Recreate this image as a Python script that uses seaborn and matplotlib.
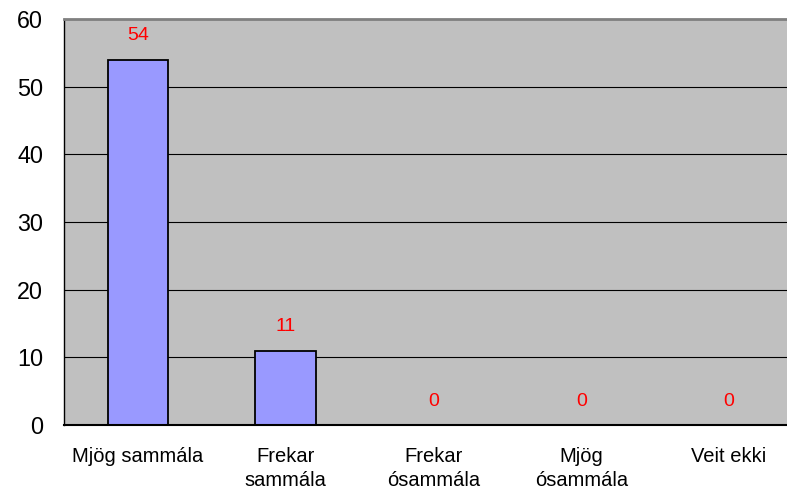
import pandas as pd
import matplotlib.pyplot as plt
import seaborn as sns
import numpy as np

categories = ['Mjög sammála', 'Frekar\nsammála', 'Frekar\nósammála', 'Mjög\nósammála', 'Veit ekki']
counts = [54, 11, 0, 0, 0]
y_ticks = [0, 10, 20, 30, 40, 50, 60]

df = pd.DataFrame({'svar': categories, 'fjoldi': counts})

sns.set_style("white")
plt.rcParams['font.family'] = ['Liberation Sans', 'DejaVu Sans']

fig = plt.figure(figsize=(7.87, 4.90), dpi=100)
# plot area runs past the right edge, like the cropped original
ax = fig.add_axes([64/787, 65/490, 739/787, 406/490])
ax.set_facecolor('#C0C0C0')

g = sns.barplot(ax=ax, data=df, x='svar', y='fjoldi', color='#9999FF',
                edgecolor='black', linewidth=1.3, width=0.41, saturation=1)
g.bar_label(g.containers[0], labels=[str(v) for v in counts], padding=11,
            color='red', fontsize=14)

ax.set_ylim(0, 60)
ax.set_xlim(-0.5, len(categories) - 0.5)
ax.set_yticks(y_ticks)
ax.yaxis.grid(True, color='black', linewidth=0.8)
ax.set_axisbelow(True)

ax.set_xticks(np.arange(len(categories)) - 0.5, minor=True)
ax.tick_params(axis='x', which='major', length=0, pad=16, labelsize=14.5, labelcolor='black')
ax.tick_params(axis='x', which='minor', length=5, width=1, color='black', direction='out')
ax.tick_params(axis='y', length=5, width=1, color='black', direction='out', pad=10,
               labelsize=16.8, labelcolor='black')
for lab in ax.get_xticklabels():
    lab.set_linespacing(1.3)
ax.set(xlabel='', ylabel='')

ax.spines['top'].set_color('#808080')
ax.spines['top'].set_linewidth(2)
ax.spines['left'].set_color('black')
ax.spines['left'].set_linewidth(1)
ax.spines['bottom'].set_color('black')
ax.spines['bottom'].set_linewidth(1.5)
ax.spines['right'].set_visible(False)

fig.savefig('out.png', dpi=100)
